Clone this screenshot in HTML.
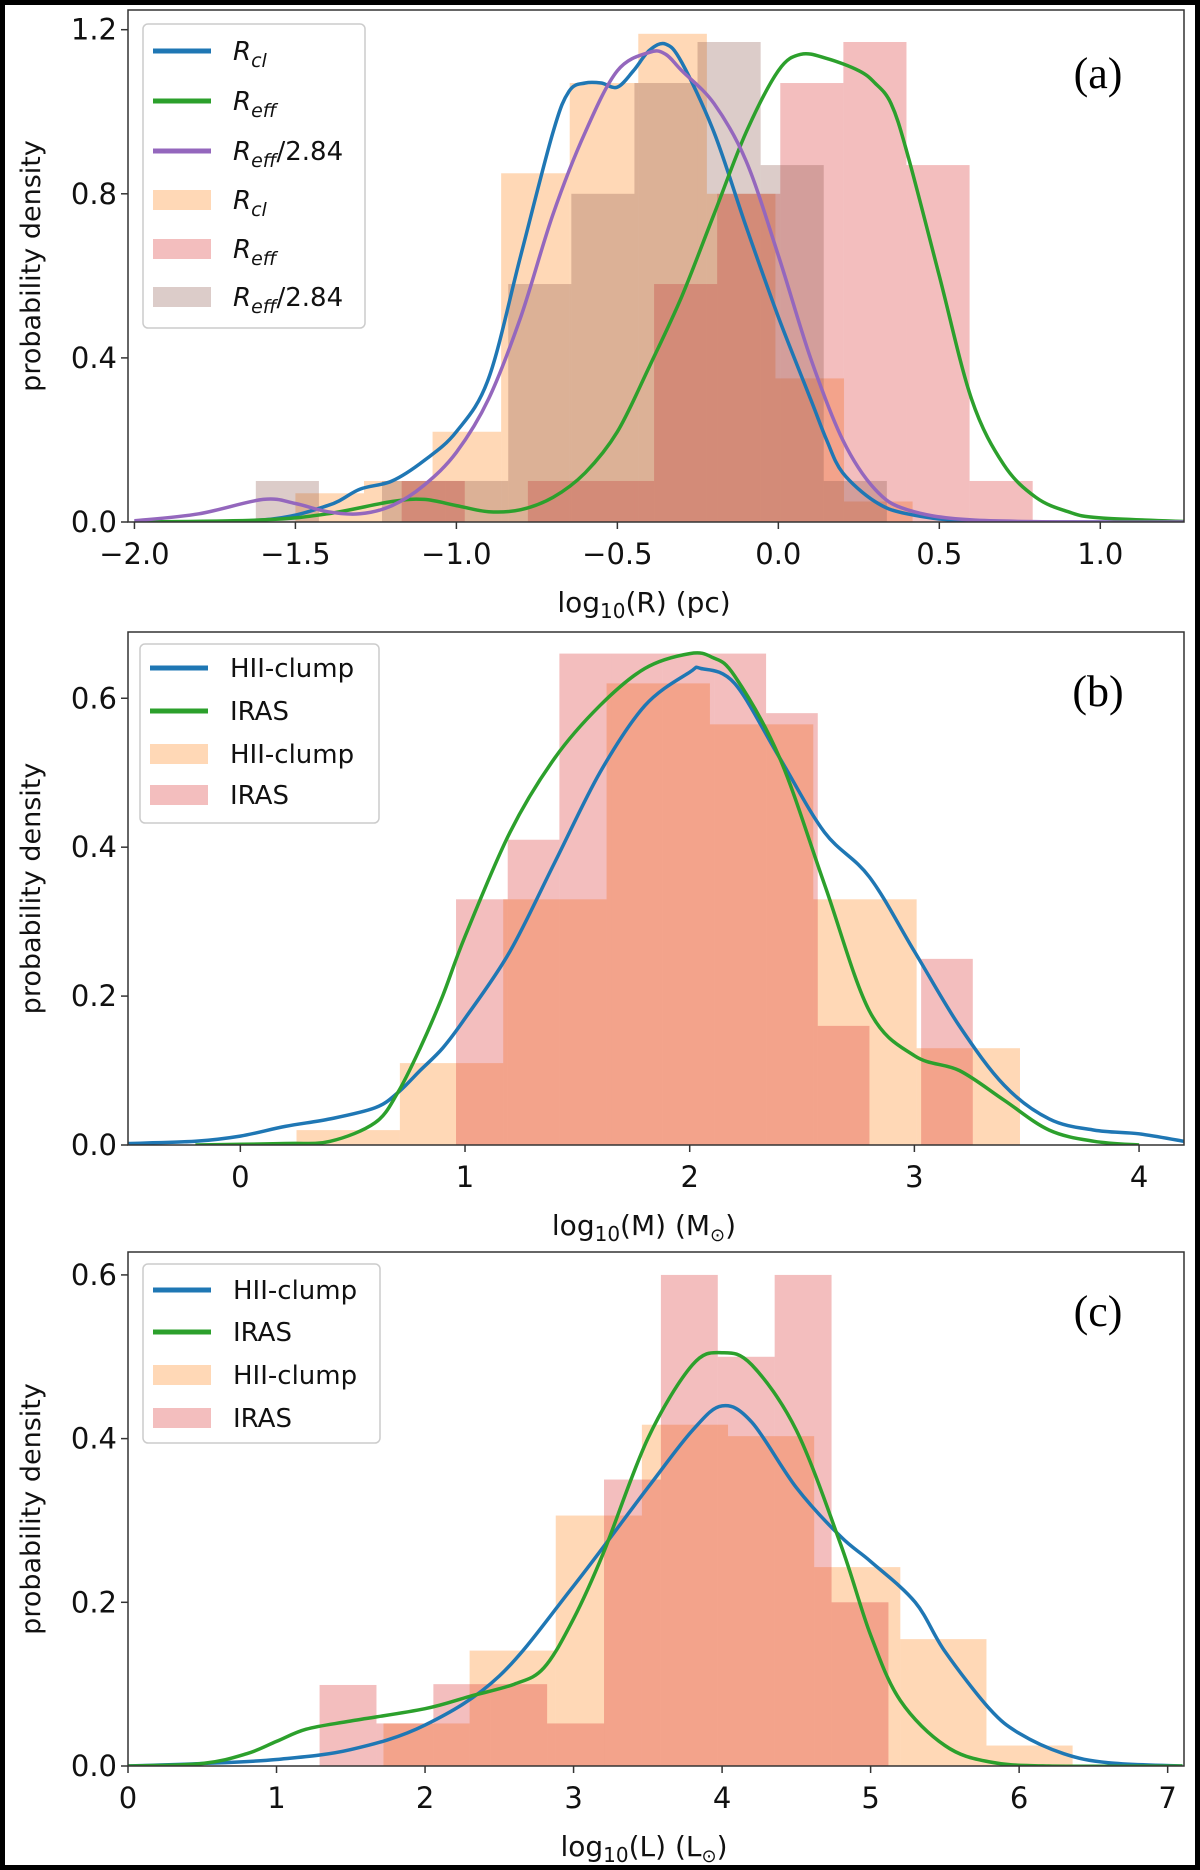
<!DOCTYPE html>
<html><head><meta charset="utf-8">
<style>
html,body{margin:0;padding:0;background:#fff;}
#wrap{position:relative;width:1200px;height:1870px;overflow:hidden;}
svg text{font-family:"DejaVu Sans","Liberation Sans",sans-serif;}
</style></head>
<body>
<div id="wrap">
<svg id="svg" width="1200" height="1870" viewBox="0 0 1200 1870" xmlns="http://www.w3.org/2000/svg">
<rect x="0" y="0" width="1200" height="1870" fill="#fff"/>
<rect x="2.5" y="2.5" width="1195" height="1865" fill="none" stroke="#000" stroke-width="5"/>
</svg>
</div>
<script>
// ---------- Panel (a) data ----------
const aRclStart = -1.50, aRclWidth = 0.213;
const aRclHeights = [0.07,0.10,0.22,0.85,1.07,1.19,0.80,0.35,0.05];
const aReffStart = -1.17, aReffWidth = 0.196;
const aReffHeights = [0.1,0,0.1,0.1,0.58,0.8,1.07,1.17,0.87,0.1];
const aReff284Start = -1.623, aReff284Width = 0.196;
const aReff284Heights = [0.1,0,0.1,0.1,0.58,0.8,1.07,1.17,0.87,0.1];
const aBlueX = [-2.0,-1.6,-1.4,-1.3,-1.2,-1.1,-1.0,-0.9,-0.8,-0.7,-0.65,-0.6,-0.55,-0.5,-0.45,-0.4,-0.35,-0.3,-0.2,-0.1,0.0,0.1,0.15,0.2,0.3,0.4,0.6,1.0,1.3];
const aBlueY = [0,0.005,0.04,0.08,0.1,0.15,0.22,0.35,0.65,0.95,1.05,1.07,1.07,1.06,1.1,1.15,1.165,1.12,0.95,0.72,0.5,0.3,0.2,0.12,0.05,0.02,0.002,0,0];
const aPurpleX = [-2.0,-1.8,-1.6,-1.5,-1.4,-1.3,-1.2,-1.1,-1.0,-0.9,-0.8,-0.7,-0.6,-0.5,-0.4,-0.35,-0.3,-0.2,-0.1,0.0,0.1,0.2,0.3,0.4,0.6,1.0,1.3];
const aPurpleY = [0.003,0.02,0.055,0.045,0.025,0.02,0.04,0.09,0.17,0.3,0.5,0.75,0.95,1.1,1.145,1.14,1.1,1.02,0.88,0.65,0.4,0.2,0.08,0.03,0.005,0,0];
const aGreenX = [-2.0,-1.6,-1.4,-1.2,-1.1,-1.0,-0.9,-0.8,-0.7,-0.6,-0.5,-0.4,-0.3,-0.2,-0.1,0.0,0.07,0.15,0.25,0.3,0.35,0.4,0.5,0.6,0.7,0.8,0.9,1.0,1.3];
const aGreenY = [0,0.005,0.02,0.05,0.055,0.04,0.025,0.03,0.06,0.12,0.22,0.38,0.55,0.75,0.95,1.1,1.14,1.13,1.1,1.07,1.02,0.9,0.6,0.3,0.14,0.06,0.025,0.01,0];
const aXTicks = [-2.0,-1.5,-1.0,-0.5,0.0,0.5,1.0];
const aXTickLabels = ["\u22122.0","\u22121.5","\u22121.0","\u22120.5","0.0","0.5","1.0"];
const aYTicks = [0.0,0.4,0.8,1.2];
const aYTickLabels = ["0.0","0.4","0.8","1.2"];

// ---------- Panel (b) data ----------
const bHiiStart = 0.25, bHiiWidth = 0.46;
const bHiiHeights = [0.02,0.11,0.33,0.62,0.565,0.33,0.13];
const bIrasStart = 0.96, bIrasWidth = 0.23;
const bIrasHeights = [0.33,0.41,0.66,0.66,0.66,0.66,0.58,0.16,0,0.25];
const bBlueX = [-0.5,-0.2,0,0.2,0.4,0.6,0.7,0.8,0.9,1.0,1.2,1.4,1.6,1.8,2.0,2.05,2.2,2.4,2.6,2.8,3.0,3.2,3.4,3.6,3.8,4.0,4.2];
const bBlueY = [0.002,0.005,0.012,0.025,0.035,0.05,0.07,0.1,0.13,0.17,0.26,0.38,0.5,0.59,0.635,0.64,0.62,0.52,0.42,0.36,0.26,0.16,0.08,0.035,0.02,0.015,0.005];
const bGreenX = [-0.2,0.2,0.4,0.6,0.7,0.8,0.9,1.0,1.2,1.4,1.6,1.8,2.0,2.1,2.2,2.4,2.6,2.8,3.0,3.2,3.4,3.6,3.8,4.0];
const bGreenY = [0,0.002,0.005,0.03,0.07,0.13,0.2,0.28,0.42,0.52,0.59,0.64,0.66,0.655,0.63,0.52,0.35,0.18,0.12,0.1,0.06,0.02,0.005,0];
const bXTicks = [0,1,2,3,4];
const bXTickLabels = ["0","1","2","3","4"];
const bYTicks = [0.0,0.2,0.4,0.6];
const bYTickLabels = ["0.0","0.2","0.4","0.6"];

// ---------- Panel (c) data ----------
const cHiiStart = 1.72, cHiiWidth = 0.58;
const cHiiHeights = [0.052,0.141,0.306,0.417,0.403,0.243,0.155,0.025];
const cIrasStart = 1.29, cIrasWidth = 0.383;
const cIrasHeights = [0.099,0.052,0.1,0.1,0.052,0.35,0.6,0.5,0.6,0.2];
const cBlueX = [0,0.5,1.0,1.5,2.0,2.5,3.0,3.5,3.8,4.0,4.2,4.5,4.8,5.0,5.3,5.5,5.8,6.0,6.3,6.6,7.1];
const cBlueY = [0,0.003,0.008,0.02,0.05,0.11,0.22,0.34,0.41,0.44,0.42,0.34,0.28,0.25,0.2,0.14,0.07,0.04,0.015,0.004,0];
const cGreenX = [0,0.5,0.8,1.0,1.2,1.5,2.0,2.3,2.6,2.8,3.0,3.2,3.5,3.8,4.0,4.2,4.5,4.8,5.0,5.2,5.5,5.8,6.2,7.1];
const cGreenY = [0,0.003,0.015,0.03,0.045,0.055,0.07,0.085,0.1,0.12,0.18,0.26,0.4,0.49,0.505,0.49,0.41,0.27,0.16,0.08,0.025,0.005,0,0];
const cXTicks = [0,1,2,3,4,5,6,7];
const cXTickLabels = ["0","1","2","3","4","5","6","7"];
const cYTicks = [0.0,0.2,0.4,0.6];
const cYTickLabels = ["0.0","0.2","0.4","0.6"];

const NS = "http://www.w3.org/2000/svg";
const svg = document.getElementById('svg');
function mk(tag, attrs, parent){
  const e = document.createElementNS(NS, tag);
  for (const k in attrs) e.setAttribute(k, attrs[k]);
  (parent||svg).appendChild(e);
  return e;
}
function smoothPath(pts){
  let d = "M" + pts[0][0].toFixed(1) + "," + pts[0][1].toFixed(1);
  for (let i=0;i<pts.length-1;i++){
    const p0 = pts[Math.max(0,i-1)], p1 = pts[i], p2 = pts[i+1], p3 = pts[Math.min(pts.length-1,i+2)];
    const c1x = p1[0] + (p2[0]-p0[0])/6, c1y = p1[1] + (p2[1]-p0[1])/6;
    const c2x = p2[0] - (p3[0]-p1[0])/6, c2y = p2[1] - (p3[1]-p1[1])/6;
    d += " C" + c1x.toFixed(1)+","+c1y.toFixed(1)+" "+c2x.toFixed(1)+","+c2y.toFixed(1)+" "+p2[0].toFixed(1)+","+p2[1].toFixed(1);
  }
  return d;
}

function panel(cfg){
  const g = mk('g', {});
  
  
  const L=128, R=1184, T=cfg.top, B=cfg.bottom;
  const sx = v => L + (v - cfg.xmin)/(cfg.xmax-cfg.xmin)*(R-L);
  const sy = v => B - (v - 0)/(cfg.ymax)*(B-T);
  const clip = 'clip-' + cfg.name;
  const cp = mk('clipPath', {id: clip}, g);
  mk('rect', {x:L, y:T, width:R-L, height:B-T}, cp);
  const plot = mk('g', {'clip-path':'url(#'+clip+')'}, g);
  cfg.hists.forEach(h => {
    const hg = mk('g', {}, plot);
    
    
    h.heights.forEach((v,i) => {
      if (v<=0) return;
      const x0 = h.start + i*h.width, x1 = x0 + h.width;
      const r = mk('rect', {x: sx(x0), y: sy(v), width: sx(x1)-sx(x0), height: sy(0)-sy(v), fill: h.color, 'fill-opacity': 0.3}, hg);
      
      
    });
  });
  cfg.lines.forEach(ln => {
    const pts = ln.xs.map((x,i)=>[sx(x), sy(ln.ys[i])]);
    const p = mk('path', {d: smoothPath(pts), fill:'none', stroke: ln.color, 'stroke-width': 3.5, 'stroke-linejoin':'round'}, plot);
    
    
  });
  const fr = mk('rect', {x:L, y:T, width:R-L, height:B-T, fill:'none', stroke:'#333', 'stroke-width':1.5}, g);
  
  
  cfg.xticks.forEach((v,i) => {
    const x = sx(v);
    mk('line', {x1:x, y1:B, x2:x, y2:B+7, stroke:'#333', 'stroke-width':1.5}, g);
    const t = mk('text', {x:x, y:B+42, 'text-anchor':'middle', 'font-size':29, fill:'#111'}, g);
    t.textContent = cfg.xlabels[i];
    
    
  });
  cfg.yticks.forEach((v,i) => {
    const y = sy(v);
    mk('line', {x1:L-7, y1:y, x2:L, y2:y, stroke:'#333', 'stroke-width':1.5}, g);
    const t = mk('text', {x:L-11, y:y+10, 'text-anchor':'end', 'font-size':29, fill:'#111'}, g);
    t.textContent = cfg.ylabels[i];
    
    
  });
  const yt = mk('text', {x:0, y:0, 'text-anchor':'middle', 'font-size':27, fill:'#111', transform:'translate(40,'+((T+B)/2)+') rotate(-90)'}, g);
  yt.textContent = 'probability density';
  
  
  const xt = mk('text', {x:(L+R)/2 - 12, y:cfg.xtitleY, 'text-anchor':'middle', 'font-size':28, fill:'#111'}, g);
  xt.innerHTML = cfg.xtitle;
  
  
  const pl = mk('text', {x:1098, y:cfg.labelY, 'text-anchor':'middle', 'font-size':44, fill:'#000', style:'font-family:"Liberation Serif",serif'}, g);
  pl.textContent = cfg.label;
  
  
  const lg = mk('g', {}, g);
  
  
  const lb = cfg.legendBox;
  mk('rect', {x:lb[0], y:lb[1], width:lb[2], height:lb[3], rx:5, fill:'#fff', 'fill-opacity':0.85, stroke:'#ccc', 'stroke-width':1.5}, lg);
  cfg.legend.forEach((e,i) => {
    const y = cfg.legendY[i];
    const eg = mk('g', {}, lg);
    
    
    if (e.type === 'line') mk('line', {x1:lb[0]+10, y1:y, x2:lb[0]+68, y2:y, stroke:e.color, 'stroke-width':5}, eg);
    else mk('rect', {x:lb[0]+10, y:y-10, width:58, height:20, fill:e.color, 'fill-opacity':0.3}, eg);
    const t = mk('text', {x:lb[0]+90, y:y+9, 'font-size':26, fill:'#111'}, eg);
    t.innerHTML = e.label;
  });
}

const sub = s => '<tspan font-style="italic">R</tspan><tspan font-style="italic" font-size="19" dy="7">'+s+'</tspan>';
const reffLbl = sub('eff');
const rclLbl = sub('cl');
const r284Lbl = '<tspan font-style="italic">R</tspan><tspan font-style="italic" font-size="19" dy="7">eff</tspan><tspan dy="-7">/2.84</tspan>';

panel({name:'panel-a-radius', top:10, bottom:522, xmin:-2.02, xmax:1.26, ymax:1.248,
  hists:[{name:'hist-rcl', start:aRclStart, width:aRclWidth, heights:aRclHeights, color:'#ff7f0e'},
         {name:'hist-reff', start:aReffStart, width:aReffWidth, heights:aReffHeights, color:'#d62728'},
         {name:'hist-reff-2.84', start:aReff284Start, width:aReff284Width, heights:aReff284Heights, color:'#8c564b'}],
  lines:[{name:'kde-rcl', xs:aBlueX, ys:aBlueY, color:'#1f77b4'},
         {name:'kde-reff', xs:aGreenX, ys:aGreenY, color:'#2ca02c'},
         {name:'kde-reff-2.84', xs:aPurpleX, ys:aPurpleY, color:'#9467bd'}],
  xticks:aXTicks, xlabels:aXTickLabels, yticks:aYTicks, ylabels:aYTickLabels,
  xtitle:'log<tspan font-size="20" dy="6">10</tspan><tspan dy="-6">(R) (pc)</tspan>', xtitleY:612,
  label:'(a)', labelY:88,
  legendBox:[143,24,222,304], legendY:[51,101,151,200,249,297],
  legend:[{type:'line',color:'#1f77b4',label:rclLbl},{type:'line',color:'#2ca02c',label:reffLbl},{type:'line',color:'#9467bd',label:r284Lbl},
          {type:'patch',color:'#ff7f0e',label:rclLbl},{type:'patch',color:'#d62728',label:reffLbl},{type:'patch',color:'#8c564b',label:r284Lbl}]
});

panel({name:'panel-b-mass', top:632, bottom:1145, xmin:-0.5, xmax:4.2, ymax:0.689,
  hists:[{name:'hist-hii-clump', start:bHiiStart, width:bHiiWidth, heights:bHiiHeights, color:'#ff7f0e'},
         {name:'hist-iras', start:bIrasStart, width:bIrasWidth, heights:bIrasHeights, color:'#d62728'}],
  lines:[{name:'kde-hii-clump', xs:bBlueX, ys:bBlueY, color:'#1f77b4'},
         {name:'kde-iras', xs:bGreenX, ys:bGreenY, color:'#2ca02c'}],
  xticks:bXTicks, xlabels:bXTickLabels, yticks:bYTicks, ylabels:bYTickLabels,
  xtitle:'log<tspan font-size="20" dy="6">10</tspan><tspan dy="-6">(M) (M</tspan><tspan font-size="18" dy="6">\u2299</tspan><tspan dy="-6">)</tspan>', xtitleY:1235,
  label:'(b)', labelY:706,
  legendBox:[140,644,239,179], legendY:[668,711,754,795],
  legend:[{type:'line',color:'#1f77b4',label:'HII-clump'},{type:'line',color:'#2ca02c',label:'IRAS'},
          {type:'patch',color:'#ff7f0e',label:'HII-clump'},{type:'patch',color:'#d62728',label:'IRAS'}]
});

panel({name:'panel-c-luminosity', top:1252, bottom:1766, xmin:0, xmax:7.11, ymax:0.628,
  hists:[{name:'hist-hii-clump', start:cHiiStart, width:cHiiWidth, heights:cHiiHeights, color:'#ff7f0e'},
         {name:'hist-iras', start:cIrasStart, width:cIrasWidth, heights:cIrasHeights, color:'#d62728'}],
  lines:[{name:'kde-hii-clump', xs:cBlueX, ys:cBlueY, color:'#1f77b4'},
         {name:'kde-iras', xs:cGreenX, ys:cGreenY, color:'#2ca02c'}],
  xticks:cXTicks, xlabels:cXTickLabels, yticks:cYTicks, ylabels:cYTickLabels,
  xtitle:'log<tspan font-size="20" dy="6">10</tspan><tspan dy="-6">(L) (L</tspan><tspan font-size="18" dy="6">\u2299</tspan><tspan dy="-6">)</tspan>', xtitleY:1856,
  label:'(c)', labelY:1326,
  legendBox:[143,1264,237,179], legendY:[1290,1332,1375,1418],
  legend:[{type:'line',color:'#1f77b4',label:'HII-clump'},{type:'line',color:'#2ca02c',label:'IRAS'},
          {type:'patch',color:'#ff7f0e',label:'HII-clump'},{type:'patch',color:'#d62728',label:'IRAS'}]
});
</script>
</body></html>
